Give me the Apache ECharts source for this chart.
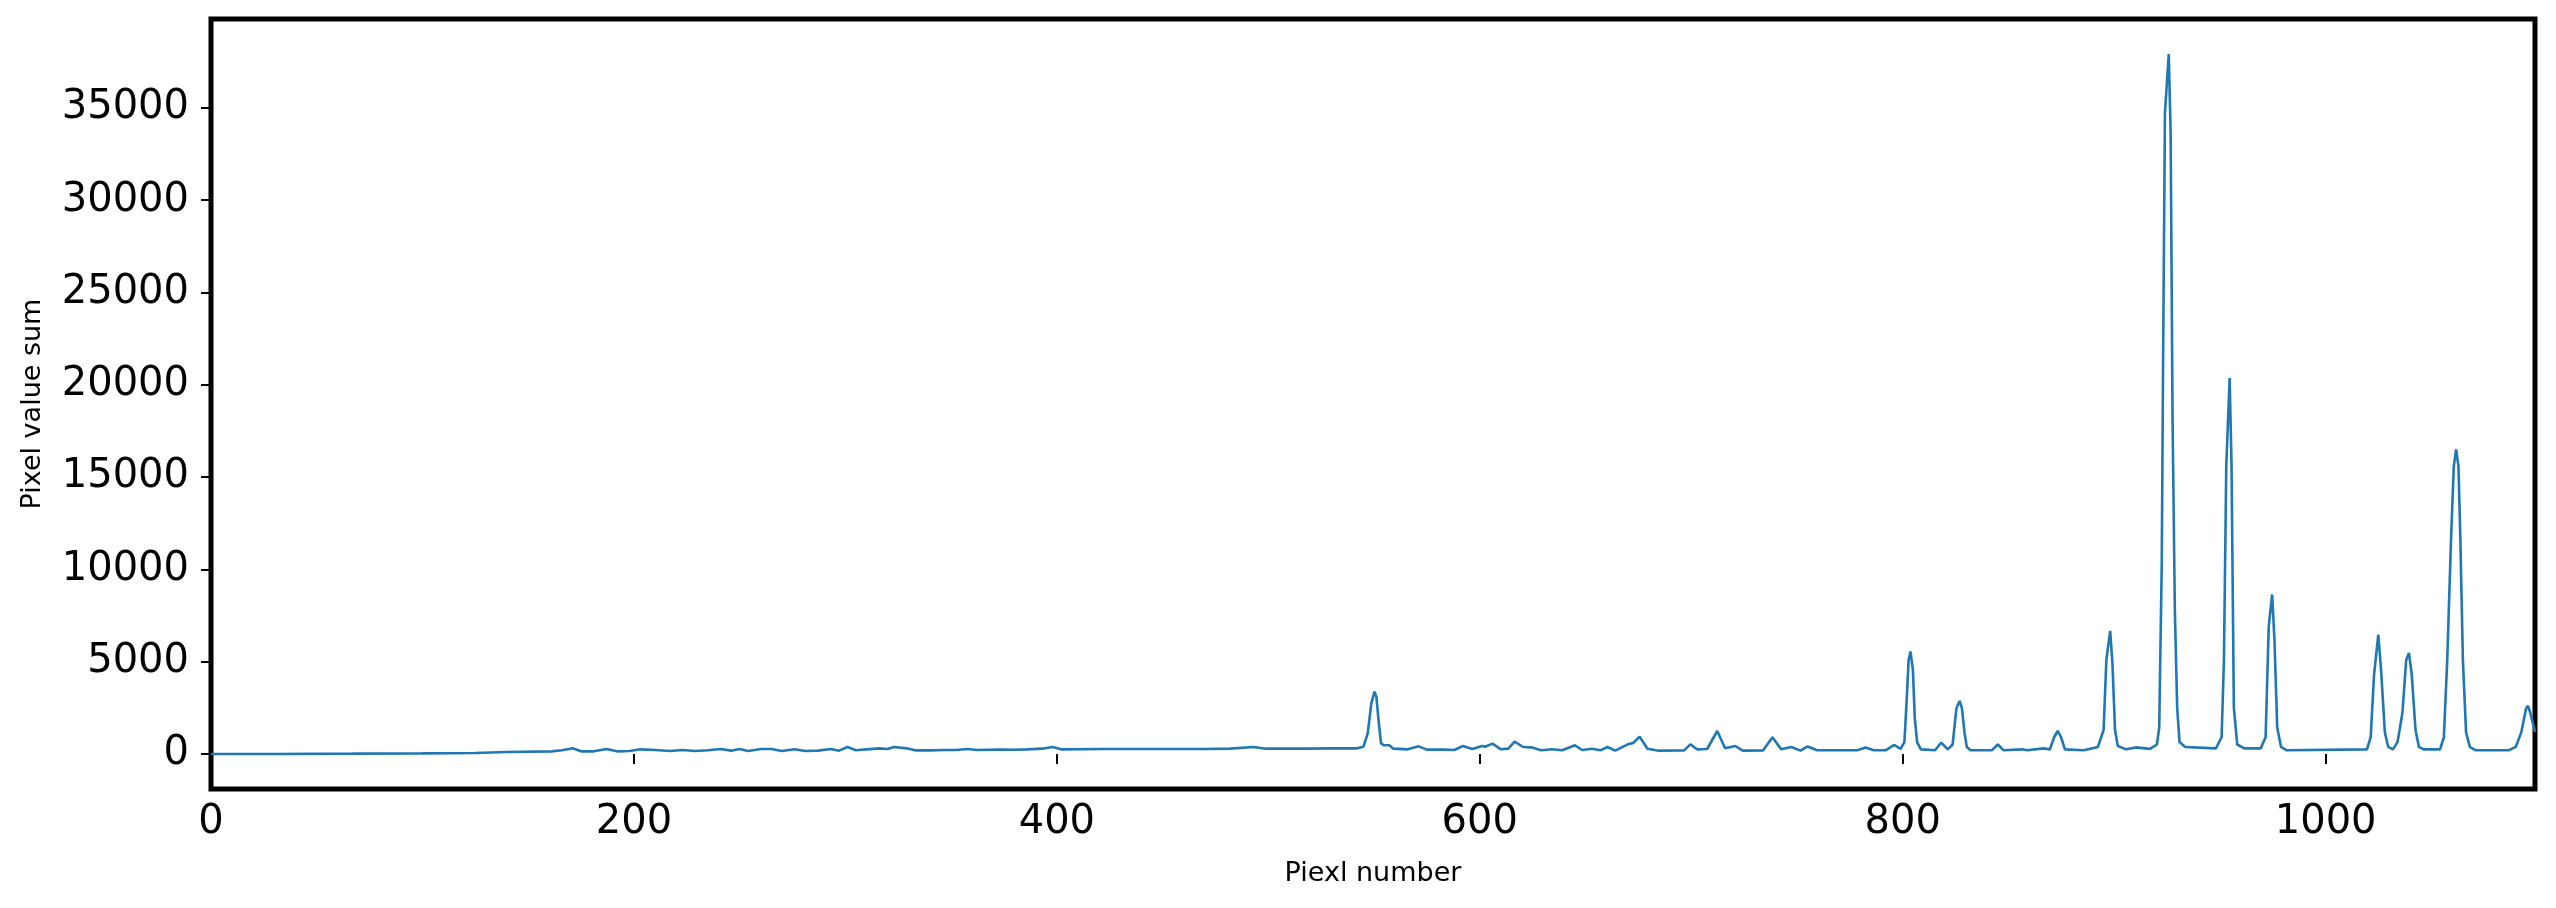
<!DOCTYPE html>
<html>
<head>
<meta charset="utf-8">
<script src="https://cdn.jsdelivr.net/npm/echarts@6/dist/echarts.min.js"></script>
<style>
html,body{margin:0;padding:0;background:#fff;}
#chart{width:2556px;height:908px;}
</style>
</head>
<body>
<div id="chart"></div>
<script>
// Pixel number (x) and pixel value sum (y)
const pixelNumber = [
  0, 30, 67, 100, 125, 140, 161, 166, 171, 175, 181, 187, 192, 198, 203, 210, 217, 223, 229, 235,
  241, 246, 250, 254, 260, 265, 270, 276, 281, 287, 293, 297, 301, 305, 310, 316, 320, 323, 329, 333,
  340, 347, 352, 358, 362, 373,
  380, 386, 393, 398, 402, 422, 446, 470, 482, 493, 499, 518, 530, 542, 545, 547, 548.7, 550.2, 551.1, 552.1,
  553.3, 554.8, 557.2, 559.1, 566, 571, 575, 583, 588, 592, 596.5, 601, 602.5, 606, 610, 613.5, 616.5, 620.5,
  624.3, 629, 634, 639, 645, 648.4, 653, 657, 660.4, 664, 670, 672.5, 675.6, 679.3, 684.6, 696.6, 699.6, 702.7,
  707.5, 712.3, 716, 720.8, 724.4, 734, 738.4, 742.5, 747.3, 751.7,
  755, 759.5, 778.5, 782.5, 786.3, 791.9, 795.9, 799, 800.8, 801.9, 802.8, 803.7, 804.8, 805.7, 806.8, 808.6,
  815.3, 818.2, 821.3, 823.6, 825.4, 826.9, 828, 829.2, 830.3, 832.1, 842.1, 845, 847.7, 856.6, 858.8, 866.7,
  869.6, 871.6, 873.3, 874.9, 876.7, 885.6, 892.3, 895, 896.3, 898.1, 899.2, 900.4, 901.7, 905.7, 910.2, 916.9,
  920.2, 921.3, 922.5, 923.1, 924, 925.8, 926.7, 927.6, 928.7, 929.8, 930.9, 933.6, 948.1, 950.8, 951.9, 953,
  954.6, 955.5, 956.6, 958.2, 961.5, 969.3, 971.6, 973.1, 974.7, 975.8, 977.1, 978.9, 981.6, 1019.5, 1021.3, 1022.9,
  1024.9, 1026.2, 1028, 1029.6, 1031.8, 1034, 1036.3, 1038.1, 1039.4, 1040.7, 1042.5, 1044.1, 1046.3, 1054.1, 1055.9, 1057.5,
  1059.3, 1060.6, 1061.7, 1062.8, 1063.7, 1064.9, 1066.4, 1068.2, 1070.9, 1086.5, 1089.9, 1092.5, 1094.8, 1095.7, 1096.8, 1099
];
const pixelValueSum = [
  0, 0, 18, 36, 54, 108, 144, 199, 307, 144, 144, 271, 144, 162, 253, 217, 162, 217, 162, 199,
  271, 181, 271, 162, 271, 271, 162, 253, 162, 181, 271, 181, 379, 199, 253, 307, 271, 379, 307, 199,
  199, 217, 217, 271, 217, 235,
  230, 253, 289, 379, 253, 271, 271, 271, 289, 379, 289, 289, 307, 307, 397, 1120, 2745, 3377, 3106, 1842,
  578, 470, 470, 289, 253, 415, 235, 235, 217, 433, 271, 433, 397, 560, 253, 289, 668, 379,
  361, 199, 253, 199, 470, 217, 289, 199, 379, 181, 524, 596, 939, 289, 181, 199, 524, 253,
  271, 1246, 307, 433, 181, 199, 903, 253, 379, 181,
  410, 200, 200, 357, 200, 200, 488, 279, 645, 3000, 5100, 5550, 4575, 1955, 645, 252,
  200, 620, 252, 514, 2480, 2870, 2480, 1170, 383, 200, 200, 514, 200, 252, 200, 305,
  252, 907, 1250, 907, 252, 200, 383, 1300, 5100, 6670, 4837, 1300, 436, 252, 357, 279,
  514, 1431, 10340, 20820, 34700, 37920, 33650, 18200, 7720, 2480, 645, 383, 305, 907, 5100, 15580,
  20370, 15580, 2480, 514, 305, 305, 907, 6930, 8640, 6150, 1430, 383, 200, 252, 907, 4310,
  6460, 4575, 1170, 383, 252, 645, 2220, 5100, 5470, 4310, 1300, 383, 252, 252, 907, 5100,
  11650, 15580, 16500, 15580, 11650, 5100, 1170, 383, 200, 200, 383, 1170, 2480, 2610, 2220, 1200
];
const xTickValues = [0, 200, 400, 600, 800, 1000];
const yTickValues = [0, 5000, 10000, 15000, 20000, 25000, 30000, 35000];
const xAxisTitle = 'Piexl number';
const yAxisTitle = 'Pixel value sum';

const seriesData = pixelNumber.map((x, i) => [x, pixelValueSum[i]]);
const chart = echarts.init(document.getElementById('chart'), null, {renderer: 'canvas'});
const font = 'DejaVu Sans';
chart.setOption({
  animation: false,
  backgroundColor: '#ffffff',
  grid: {
    left: 211, right: 21, top: 19, bottom: 119,
    show: true, borderColor: '#000', borderWidth: 5, backgroundColor: 'transparent'
  },
  xAxis: {
    type: 'value', min: 0, max: 1099,
    name: xAxisTitle, nameLocation: 'middle', nameGap: 71,
    nameTextStyle: {fontFamily: font, fontSize: 27, color: '#000'},
    axisLine: {show: false},
    splitLine: {show: false},
    axisTick: {show: true, inside: false, length: 10, lineStyle: {color: '#000', width: 2}, customValues: xTickValues},
    axisLabel: {fontFamily: font, fontSize: 40, color: '#000', margin: 14, customValues: xTickValues,
      formatter: v => String(v)}
  },
  yAxis: {
    type: 'value', min: -1896, max: 39816,
    name: yAxisTitle, nameLocation: 'middle', nameGap: 165, nameRotate: 90,
    nameTextStyle: {fontFamily: font, fontSize: 27, color: '#000'},
    axisLine: {show: false},
    splitLine: {show: false},
    axisTick: {show: true, inside: false, length: 10, lineStyle: {color: '#000', width: 2}, customValues: yTickValues},
    axisLabel: {fontFamily: font, fontSize: 40, color: '#000', margin: 22, customValues: yTickValues,
      formatter: v => String(v)}
  },
  series: [{
    type: 'line',
    data: seriesData,
    showSymbol: false,
    symbol: 'none',
    smooth: false,
    lineStyle: {color: '#1f77b4', width: 2.6},
    clip: true
  }]
});
</script>
</body>
</html>
